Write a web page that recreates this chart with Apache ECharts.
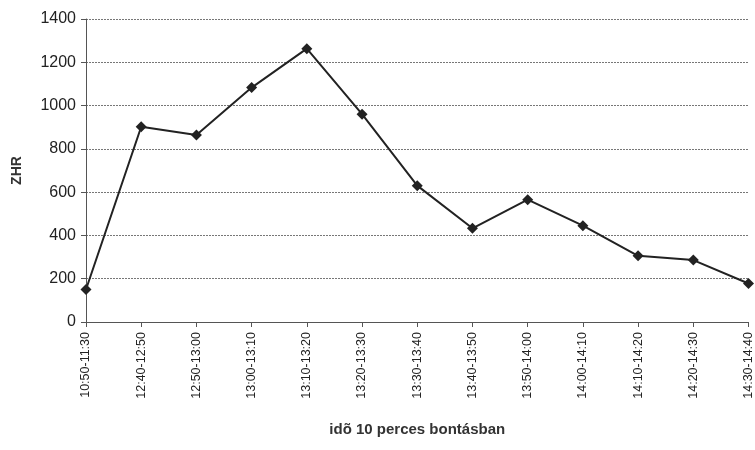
<!DOCTYPE html>
<html><head><meta charset="utf-8">
<script src="https://cdn.jsdelivr.net/npm/echarts@6/dist/echarts.min.js"></script>
<style>html,body{margin:0;padding:0;background:#fff}#c{width:755px;height:450px}</style>
</head><body><div id="c"></div>
<script>
var categories = ["10:50-11:30","12:40-12:50","12:50-13:00","13:00-13:10","13:10-13:20","13:20-13:30","13:30-13:40","13:40-13:50","13:50-14:00","14:00-14:10","14:10-14:20","14:20-14:30","14:30-14:40"];
var zhr = [150, 902, 864, 1083, 1263, 960, 630, 433, 565, 445, 306, 286, 178];
var yTicks = [0, 200, 400, 600, 800, 1000, 1200, 1400];

var chart = echarts.init(document.getElementById('c'));
chart.setOption({
  animation: false,
  grid: {left: 86, top: 19, right: 3, bottom: 128, containLabel: false},
  xAxis: {
    type: 'category', data: categories, boundaryGap: false,
    name: 'idõ 10 perces bontásban', nameLocation: 'middle', nameGap: 100,
    nameTextStyle: {fontFamily: 'Liberation Sans Narrow, Arial', fontWeight: 'bold', fontSize: 15, color: '#333'},
    axisLine: {lineStyle: {color: '#555', width: 1}},
    axisTick: {show: true, length: 5, lineStyle: {color: '#555'}, alignWithLabel: true},
    axisLabel: {rotate: 90, fontFamily: 'Liberation Sans Narrow, Arial', fontSize: 12.5, color: '#222', margin: 10, interval: 0},
    splitLine: {show: false}
  },
  yAxis: {
    type: 'value', min: 0, max: 1400, interval: 200,
    name: 'ZHR', nameLocation: 'middle', nameGap: 62, nameRotate: 90,
    nameTextStyle: {fontFamily: 'Liberation Sans, Arial', fontWeight: 'bold', fontSize: 14, color: '#333'},
    axisLine: {show: true, lineStyle: {color: '#555', width: 1}},
    axisTick: {show: true, length: 5, lineStyle: {color: '#555'}},
    axisLabel: {fontFamily: 'Liberation Sans, Arial', fontSize: 16, color: '#222', margin: 10,
      formatter: function(v){ return yTicks.indexOf(v) >= 0 ? String(v) : ''; }},
    splitLine: {show: true, lineStyle: {color: '#777', type: [2, 1], width: 1}}
  },
  series: [{
    type: 'line', data: zhr,
    symbol: 'diamond', symbolSize: 11,
    lineStyle: {color: '#222', width: 2},
    itemStyle: {color: '#222'}
  }]
});
</script></body></html>
